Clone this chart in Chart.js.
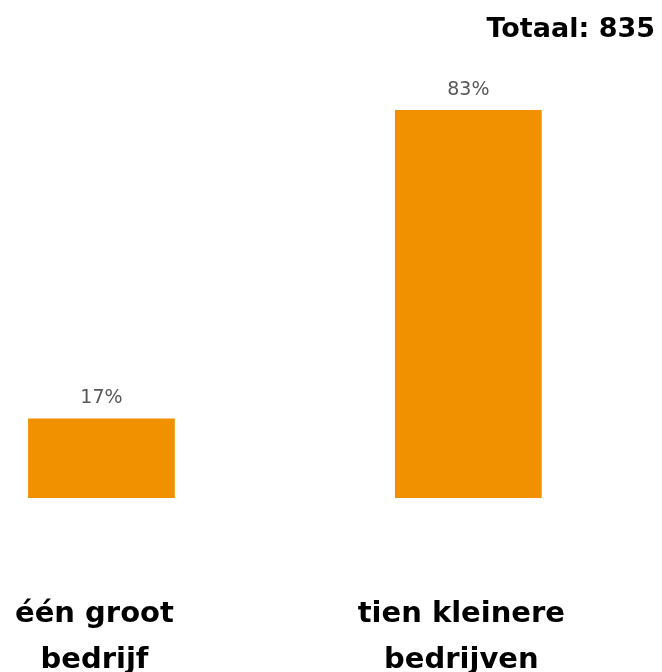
<!DOCTYPE html>
<html>
<head>
<meta charset="utf-8">
<script src="https://cdn.jsdelivr.net/npm/chart.js@4"></script>
<style>
  html, body { margin: 0; padding: 0; background: #fff; overflow: hidden; }
  body { width: 662px; height: 672px; position: relative; }
  #chart { position: absolute; left: -82px; top: 0; }
  #total {
    position: absolute; right: 7px; top: 12px;
    font: bold 27px/32px 'DejaVu Sans', sans-serif; color: #000;
  }
</style>
</head>
<body>
<canvas id="chart" width="739" height="684"></canvas>
<div id="total"></div>
<script>
// ================= DATA =================
const categories = [["één groot", "bedrijf"], ["tien kleinere", "bedrijven"]];
const percentages = [17, 83];
const totalLabel = "Totaal: 835";
const barColor = "#F29100";

document.getElementById("total").textContent = totalLabel;


// ================= VALUE LABELS ABOVE BARS =================
const valueLabels = {
  id: "valueLabels",
  afterDatasetsDraw(chart) {
    const ctx = chart.ctx;
    const meta = chart.getDatasetMeta(0);
    ctx.save();
    ctx.font = "19px 'DejaVu Sans'";
    ctx.fillStyle = "#595959";
    ctx.textAlign = "center";
    ctx.textBaseline = "middle";
    meta.data.forEach((bar, i) => {
      ctx.fillText(percentages[i] + "%", bar.x, bar.y - 20);
    });
    ctx.restore();
  }
};


// ================= CHART =================
new Chart(document.getElementById("chart"), {
  type: "bar",
  data: {
    labels: categories,
    datasets: [{
      data: percentages,
      backgroundColor: barColor,
      barPercentage: 0.4,
      categoryPercentage: 1
    }]
  },
  options: {
    responsive: false,
    animation: false,
    layout: { padding: { left: 0, right: 0, top: 77.3, bottom: 0 } },
    plugins: {
      legend: { display: false },
      tooltip: { enabled: false },
      title: { display: false }
    },
    scales: {
      x: {
        grid: { display: false },
        border: { display: false },
        afterFit: (scale) => { scale.height = 186; },
        ticks: {
          color: "#000",
          padding: 85,
          labelOffset: -7,
          maxRotation: 0,
          font: { family: "'DejaVu Sans'", size: 29, weight: "bold", lineHeight: 1.6 }
        }
      },
      y: {
        display: false,
        min: 0,
        max: 90
      }
    }
  },
  plugins: [valueLabels]
});
</script>
</body>
</html>
